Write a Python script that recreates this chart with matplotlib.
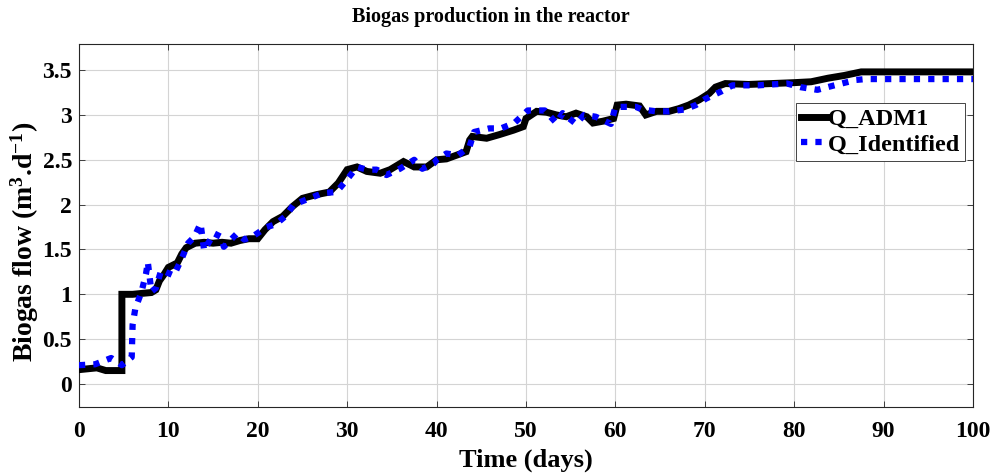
import matplotlib
matplotlib.use("Agg")
import matplotlib.pyplot as plt

# ---- data ----
t_adm1 = [0, 1, 2, 3, 4, 4.8, 4.8, 6, 7, 8.1, 8.6, 9, 9.5, 10, 11, 11.5, 12, 13, 14, 15, 16, 17, 18,
          19, 20, 20.8, 21.7, 22.8, 23.9, 25, 26.5, 28, 29, 30, 31.1, 32.2, 33.7, 34.8, 36.3, 37.5,
          38.9, 40, 41.1, 42.2, 43.3, 43.7, 44, 45.6, 47, 48.6, 49.7, 50, 51.2, 52.3, 53.4, 54.5,
          55.6, 56.8, 57.5, 58.6, 59.8, 60.2, 61.2, 62.7, 63.4, 64.6, 66, 67.1, 68.2, 69.4, 70.5,
          71.2, 72.3, 74.9, 77.5, 80, 81.9, 83.8, 85.6, 87.5, 90, 95, 100]
q_adm1 = [0.16, 0.17, 0.18, 0.15, 0.15, 0.15, 1.0, 1.0, 1.01, 1.02, 1.05, 1.15, 1.22, 1.3, 1.35, 1.45,
          1.52, 1.57, 1.58, 1.57, 1.58, 1.57, 1.6, 1.62, 1.62, 1.72, 1.81, 1.87, 1.98, 2.07, 2.11,
          2.14, 2.24, 2.39, 2.42, 2.37, 2.35, 2.39, 2.48, 2.42, 2.42, 2.5, 2.51, 2.55, 2.59, 2.72,
          2.76, 2.74, 2.78, 2.83, 2.87, 2.96, 3.04, 3.03, 3.0, 2.98, 3.02, 2.98, 2.91, 2.93, 2.96,
          3.11, 3.12, 3.10, 3.0, 3.04, 3.04, 3.07, 3.11, 3.17, 3.24, 3.31, 3.35, 3.34, 3.35, 3.36,
          3.37, 3.41, 3.44, 3.48, 3.48, 3.48, 3.48]

t_ident = [0, 1.8, 3.6, 4.8, 5.9, 5.95, 6.0, 6.3, 7, 7.5, 7.7, 8.1, 8.6, 9.2, 10.6, 11.5, 12.2, 12.9,
           13.6, 14, 15.1, 15.9, 16.2, 17.7, 18.5, 19.5, 21, 22, 23.2, 24, 25.8, 27.3, 28.8, 29.9,
           31.1, 32.2, 33.3, 34.4, 35.9, 37.5, 38.4, 39.7, 40, 41.1, 42.4, 43.7, 44.2, 45.9, 47.2,
           48.7, 50.2, 52.1, 53.4, 54.1, 55.6, 56.5, 57.8, 59.5, 60, 61.2, 62.3, 63, 64.6, 66,
           67.7, 69, 70.1, 71.8, 73.1, 74.6, 76, 77.5, 79.2, 80.7, 82.6, 84.5, 86.9, 88, 90, 95, 100]
q_ident = [0.21, 0.22, 0.29, 0.21, 0.30, 0.49, 0.66, 0.84, 1.03, 1.23, 1.36, 1.03, 1.07, 1.27, 1.21,
           1.40, 1.57, 1.64, 1.79, 1.49, 1.68, 1.64, 1.53, 1.68, 1.61, 1.65, 1.75, 1.78, 1.88, 2.0,
           2.07, 2.13, 2.14, 2.27, 2.42, 2.39, 2.39, 2.33, 2.40, 2.50, 2.40, 2.46, 2.5, 2.57, 2.55,
           2.65, 2.81, 2.85, 2.85, 2.91, 3.05, 3.05, 2.91, 3.02, 2.90, 3.0, 2.98, 2.90, 3.09, 3.09,
           3.09, 3.06, 3.04, 3.04, 3.06, 3.11, 3.18, 3.26, 3.33, 3.33, 3.33, 3.34, 3.35, 3.31, 3.28,
           3.33, 3.39, 3.40, 3.40, 3.40, 3.40]

x_ticks = [0, 10, 20, 30, 40, 50, 60, 70, 80, 90, 100]
y_ticks = [0, 0.5, 1, 1.5, 2, 2.5, 3, 3.5]
y_tick_labels = ["0", "0.5", "1", "1.5", "2", "2.5", "3", "3.5"]

# ---- styling ----
plt.rcParams['font.family'] = ['Liberation Serif', 'DejaVu Serif']
plt.rcParams['font.weight'] = 'bold'
plt.rcParams['mathtext.fontset'] = 'custom'
plt.rcParams['mathtext.rm'] = 'Liberation Serif:bold'
plt.rcParams['mathtext.bf'] = 'Liberation Serif:bold'
plt.rcParams['mathtext.default'] = 'rm'

fig = plt.figure(figsize=(10.01, 4.74), dpi=100)
ax = fig.add_axes([0.0789, 0.1414, 0.8931, 0.7656])

ax.plot(t_adm1, q_adm1, color='black', lw=5, solid_joinstyle='miter', label='Q_ADM1', zorder=3)
ax.plot(t_ident, q_ident, color='#0000ff', lw=4.5, linestyle=(0, (1, 1.3)),
        dash_capstyle='butt', label='Q_Identified', zorder=4)

ax.set_xlim(0, 100)
ax.set_ylim(-0.256, 3.79)
ax.set_xticks(x_ticks)
ax.set_yticks(y_ticks)
ax.set_yticklabels(y_tick_labels)
ax.tick_params(direction='in', length=4, width=0.6, colors='#262626', labelsize=17,
               top=True, right=True)
ax.tick_params(axis='x', pad=10)
ax.tick_params(axis='y', pad=5)
for lab in ax.get_xticklabels() + ax.get_yticklabels():
    lab.set_color('black')
    lab.set_fontweight('bold')
ax.grid(True, color='#d4d4d4', lw=0.8)
ax.set_axisbelow(True)
for s in ax.spines.values():
    s.set_color('#262626')
    s.set_linewidth(0.8)

ax.set_title('Biogas production in the reactor', fontsize=14.5, fontweight='bold', pad=16,
             x=0.461)
ax.set_xlabel('Time (days)', fontsize=19, fontweight='bold', labelpad=5)
ax.set_ylabel(r'Biogas flow (m$^{3}$.d$^{-1}$)', fontsize=20, fontweight='bold')
ax.yaxis.set_label_coords(-0.042, 0.455)

leg = ax.legend(loc='upper right', bbox_to_anchor=(0.991, 0.837), fontsize=17.5,
                frameon=True, fancybox=False, edgecolor='#262626', framealpha=1,
                handlelength=1.1, handletextpad=0.0, borderpad=0.2, labelspacing=0.15,
                borderaxespad=0)
leg.get_frame().set_linewidth(0.6)

fig.savefig('out.png', dpi=100)
